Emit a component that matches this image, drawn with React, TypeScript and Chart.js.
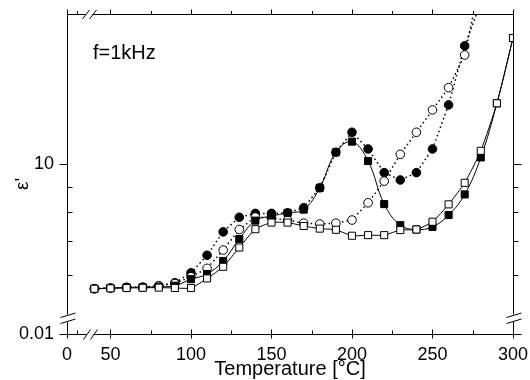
import { useEffect, useRef } from 'react';
import { Chart, registerables } from 'chart.js';

Chart.register(...registerables);

const temperatures = [40, 50, 60, 70, 80, 90, 100, 110, 120, 130, 140, 150, 160, 170, 180, 190, 200, 210, 220, 230, 240, 250, 260, 270, 280, 290, 300];
const filledCircles = [5.62, 5.64, 5.655, 5.66, 5.7, 5.78, 6.05, 6.56, 7.31, 7.82, 7.96, 7.96, 7.98, 8.17, 8.96, 10.56, 11.58, 10.72, 9.61, 9.29, 9.61, 10.72, 13.14, 17.26, 21.1, null, null];
const openCircles = [5.62, 5.64, 5.655, 5.66, 5.69, 5.76, 5.94, 6.175, 6.72, 7.39, 7.83, 7.8, 7.72, 7.61, 7.58, 7.61, 7.72, 8.36, 9.24, 10.46, 11.58, 12.84, 14.23, 16.55, 23.5, null, null];
const filledSquares = [5.62, 5.64, 5.655, 5.66, 5.67, 5.7, 5.875, 6.015, 6.39, 7.07, 7.7, 7.86, 7.98, 8.1, 8.96, 10.56, 11.09, 10.14, 8.31, 7.54, 7.39, 7.48, 7.9, 8.69, 10.31, 13.24, 17.9];
const openSquares = [5.62, 5.63, 5.64, 5.645, 5.65, 5.64, 5.64, 5.895, 6.22, 6.8, 7.4, 7.63, 7.63, 7.51, 7.42, 7.38, 7.18, 7.2, 7.2, 7.37, 7.39, 7.66, 8.3, 9.17, 10.63, 13.24, 17.9];

const X_MIN = 23;
const X_MAX = 300;
const Y_MIN = 4.56;
const Y_MAX = 20;
const xTickValues = [X_MIN, 50, 100, 150, 200, 250, 300];
const xTickLabels = ['0', '50', '100', '150', '200', '250', '300'];
const xMinorTicks = [29.5, 75, 125, 175, 225, 275];
const yTickValues = [Y_MIN, 10];
const yTickLabels = ['0.01', '10'];
const yMinorTicks = [6, 7, 8, 9];
const FONT = "'Liberation Sans', Arial, sans-serif";

const framePlugin = {
  id: 'frame',
  afterDraw(chart: any) {
    const { ctx, chartArea, scales } = chart;
    const xs = scales.x;
    const ys = scales.y;
    const L = Math.round(chartArea.left) + 0.5;
    const R = Math.round(chartArea.right) + 0.5;
    const T = Math.round(chartArea.top) + 0.5;
    const B = Math.round(chartArea.bottom) + 0.5;
    ctx.save();
    ctx.strokeStyle = '#000';
    ctx.lineWidth = 1;
    const line = (x1: number, y1: number, x2: number, y2: number) => {
      ctx.beginPath();
      ctx.moveTo(x1, y1);
      ctx.lineTo(x2, y2);
      ctx.stroke();
    };
    // axes with breaks
    const gy1 = B - 20;
    const gy2 = B - 13;
    line(L, T, L, gy1);
    line(L, gy2, L, B);
    line(R, T, R, gy1);
    line(R, gy2, R, B);
    line(L, B, L + 19, B);
    line(L + 26, B, R, B);
    line(L, T, L + 18, T);
    line(L + 25, T, R, T);
    // break slashes
    line(L - 7, gy1 + 3, L + 8, gy1 - 1.5);
    line(L - 7, gy2 + 2, L + 8, gy2 - 2.5);
    line(R - 7, gy1 + 3, R + 8, gy1 - 1.5);
    line(R - 7, gy2 + 2, R + 8, gy2 - 2.5);
    line(L + 16, B + 5, L + 23, B - 5);
    line(L + 23, B + 5, L + 30, B - 5);
    line(L + 15, T + 4.5, L + 22, T - 4.5);
    line(L + 22, T + 4.5, L + 29, T - 4.5);
    // x ticks
    xTickValues.forEach((v) => {
      const px = Math.round(xs.getPixelForValue(v)) + 0.5;
      line(px, B - 5, px, B + 4);
      line(px, T, px, T - 5);
    });
    xMinorTicks.forEach((v) => {
      const px = Math.round(xs.getPixelForValue(v)) + 0.5;
      line(px, B - 4, px, B);
      line(px, T, px, T - 3.5);
    });
    // y ticks
    yTickValues.forEach((v) => {
      const py = Math.round(ys.getPixelForValue(v)) + 0.5;
      line(L - 8, py, L, py);
      line(R, py, R + 8, py);
    });
    yMinorTicks.forEach((v) => {
      const py = Math.round(ys.getPixelForValue(v)) + 0.5;
      line(L, py, L + 5, py);
      line(R, py, R + 5, py);
    });
    // annotations
    ctx.fillStyle = '#000';
    ctx.font = `20px ${FONT}`;
    ctx.textAlign = 'left';
    ctx.textBaseline = 'alphabetic';
    ctx.fillText('f=1kHz', 93, 58.5);
    ctx.save();
    ctx.translate(23, 184);
    ctx.rotate(-Math.PI / 2);
    ctx.font = `19px ${FONT}`;
    ctx.textAlign = 'center';
    ctx.textBaseline = 'middle';
    ctx.fillText("ε'", 0, 0);
    ctx.restore();
    ctx.restore();
  },
};

export default function App() {
  const ref = useRef<HTMLCanvasElement | null>(null);
  useEffect(() => {
    if (!ref.current) return;
    const mk = (data: (number | null)[], style: string, fill: string, dashed: boolean, radius: number, tension: number) => ({
      data,
      borderColor: '#000',
      borderWidth: dashed ? 1.5 : 1,
      borderDash: dashed ? [1.5, 3] : [],
      tension,
      pointStyle: style,
      pointRadius: radius,
      pointBorderWidth: 1,
      pointBorderColor: '#000',
      pointBackgroundColor: fill,
      fill: false,
    });
    const chart = new Chart(ref.current, {
      type: 'line',
      data: {
        labels: temperatures,
        datasets: [
          { ...mk(openSquares, 'rect', '#fff', false, 5, 0.2) },
          { ...mk(filledSquares, 'rect', '#000', false, 5, 0.4) },
          { ...mk(openCircles, 'circle', '#fff', true, 4.3, 0) },
          { ...mk(filledCircles, 'circle', '#000', true, 4.3, 0) },
        ].map((d) => ({ ...d, data: d.data.map((v, i) => ({ x: temperatures[i], y: v })) })) as any,
      },
      options: {
        animation: false,
        responsive: true,
        maintainAspectRatio: false,
        layout: { padding: { top: 14, right: 17, left: 0, bottom: 0 } },
        plugins: { legend: { display: false }, tooltip: { enabled: false } },
        scales: {
          x: {
            type: 'linear',
            min: X_MIN,
            max: X_MAX,
            grid: { display: false, drawTicks: false },
            border: { display: false },
            afterBuildTicks: (s: any) => {
              s.ticks = xTickValues.map((v) => ({ value: v }));
            },
            afterFit: (s: any) => {
              s.height = 46;
              s.paddingLeft = 0;
              s.paddingRight = 0;
            },
            ticks: {
              autoSkip: false,
              maxRotation: 0,
              padding: 10,
              color: '#000',
              font: { size: 18, family: FONT },
              callback: (_v: any, i: number) => xTickLabels[i],
            },
            title: {
              display: true,
              text: 'Temperature [°C]',
              color: '#000',
              font: { size: 20, family: FONT },
              padding: { top: 0, bottom: -1 },
            },
          },
          y: {
            type: 'logarithmic',
            min: Y_MIN,
            max: Y_MAX,
            grid: { display: false, drawTicks: false },
            border: { display: false },
            afterBuildTicks: (s: any) => {
              s.ticks = yTickValues.map((v) => ({ value: v }));
            },
            afterFit: (s: any) => {
              s.width = 67;
              s.paddingTop = 0;
              s.paddingBottom = 0;
            },
            ticks: {
              autoSkip: false,
              padding: 13,
              color: '#000',
              font: { size: 18, family: FONT },
              callback: (_v: any, i: number) => yTickLabels[i],
            },
          },
        },
      } as any,
      plugins: [framePlugin],
    });
    return () => chart.destroy();
  }, []);
  return (
    <div style={{ position: 'fixed', left: 0, top: 0, width: 530, height: 380, background: '#fff' }}>
      <canvas ref={ref} />
    </div>
  );
}
